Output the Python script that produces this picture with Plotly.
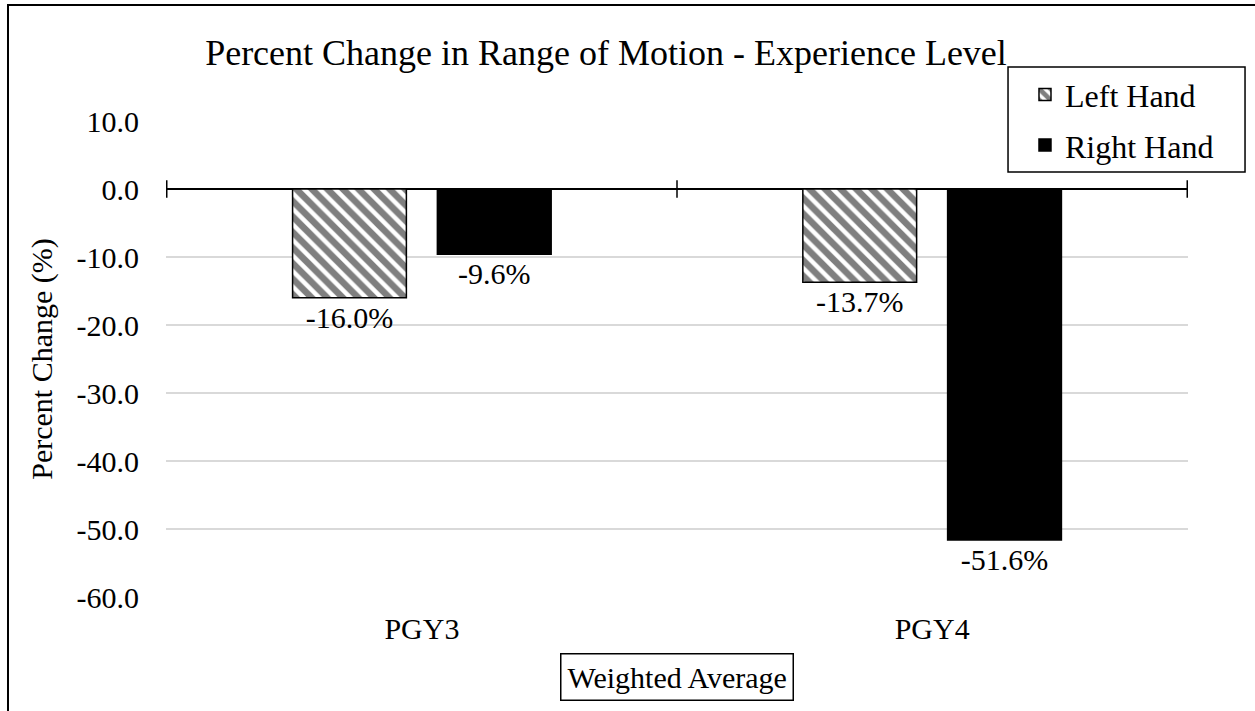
import plotly.graph_objects as go

categories = ["PGY3", "PGY4"]
left_hand = [-16.0, -13.7]
right_hand = [-9.6, -51.6]
y_ticks = [10.0, 0.0, -10.0, -20.0, -30.0, -40.0, -50.0, -60.0]

FONT = "Liberation Serif, Times New Roman, serif"

fig = go.Figure()
fig.add_trace(go.Bar(
    x=categories, y=left_hand, name="Left Hand", legendgroup="a",
    marker=dict(color="white", line=dict(color="black", width=1.5),
                pattern=dict(shape="\\", fgcolor="black", bgcolor="white", size=11, solidity=0.6)),
    texttemplate="%{y:.1f}%", textposition="outside", cliponaxis=False,
    textfont=dict(family=FONT, size=30, color="black"),
))
fig.add_trace(go.Bar(
    x=categories, y=right_hand, name="Right Hand", legendgroup="b",
    marker=dict(color="black", line=dict(color="black", width=1.5)),
    texttemplate="%{y:.1f}%", textposition="outside", cliponaxis=False,
    textfont=dict(family=FONT, size=30, color="black"),
))

# tick marks crossing the zero line at category boundaries
for xb in [-0.5, 0.5, 1.5]:
    fig.add_shape(type="line", xref="x", yref="y", x0=xb, x1=xb, y0=-1.3, y1=1.3,
                  line=dict(color="black", width=1.5))

# chart border
fig.add_shape(type="rect", xref="paper", yref="paper", x0=-0.1546, x1=2, y0=-2, y1=1.2437,
              line=dict(color="black", width=2), layer="above")

# legend box
fig.add_shape(type="rect", xref="paper", yref="paper", x0=0.8239, x1=1.0558, y0=0.8929, y1=1.1134,
              line=dict(color="black", width=1.5), fillcolor="white", layer="above")

fig.add_annotation(text="Weighted Average", xref="paper", yref="paper", x=0.5, y=-0.168,
                   xanchor="center", yanchor="middle", showarrow=False,
                   font=dict(family=FONT, size=30, color="black"),
                   bordercolor="black", borderwidth=1.5, borderpad=6, bgcolor="white")

fig.update_layout(
    width=1255, height=711,
    margin=dict(l=166, r=67, t=121, b=114),
    paper_bgcolor="white", plot_bgcolor="white",
    font=dict(family=FONT, size=30, color="black"),
    title=dict(text="Percent Change in Range of Motion - Experience Level",
               x=606 / 1255, xanchor="center", xref="container",
               y=1 - 52 / 711, yanchor="middle", yref="container",
               font=dict(family=FONT, size=36, color="black")),
    barmode="group", bargap=0.4325, bargroupgap=0.214,
    showlegend=True,
    legend=dict(x=0.8405, y=1.113, xanchor="left", yanchor="top",
                borderwidth=0, bgcolor="rgba(0,0,0,0)",
                font=dict(family=FONT, size=32, color="black"),
                tracegroupgap=6, itemwidth=30),
    xaxis=dict(showline=False, showgrid=False, ticks="outside", ticklen=5,
               tickcolor="rgba(0,0,0,0)", tickfont=dict(family=FONT, size=30)),
    yaxis=dict(range=[-60, 10], tickvals=y_ticks, ticktext=[f"{v:.1f}" for v in y_ticks],
               showgrid=True, gridcolor="#d9d9d9", gridwidth=1.5,
               zeroline=True, zerolinecolor="black", zerolinewidth=1.5,
               showline=False, ticks="", ticklabelstandoff=26,
               tickfont=dict(family=FONT, size=30),
               title=dict(text="Percent Change (%)", font=dict(family=FONT, size=30), standoff=15)),
)

fig.write_html("out.html", config={"displayModeBar": False},
               post_script="document.body.style.margin='0';")
